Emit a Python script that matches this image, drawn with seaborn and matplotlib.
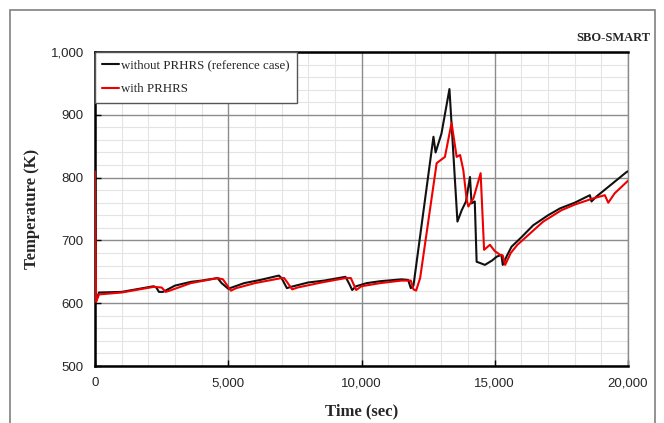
import matplotlib
matplotlib.use("Agg")
import matplotlib.pyplot as plt
import seaborn as sns
import pandas as pd
from matplotlib.patches import Rectangle
from matplotlib.ticker import FuncFormatter

# ---------------- data ----------------
black_t = [0, 40, 150, 1000, 2200, 2300, 2400, 2550, 3000, 3600, 4000, 4600, 4750, 5000, 5200,
           5600, 6200, 6900, 7000, 7200, 7350, 8000, 8600, 9400, 9550, 9650, 9800, 10200, 10700,
           11500, 11750, 11850, 11950, 12700, 12780, 13000, 13300, 13600, 13760, 13920, 14070,
           14130, 14250, 14320, 14450, 14630, 14900, 15070, 15250, 15300, 15450, 15630, 16000,
           16440, 17000, 17450, 18000, 18570, 18630, 18820, 19400, 19950, 20000]
black_T = [805, 603, 617, 618, 627, 625, 618, 618, 628, 634, 636, 640, 632, 623, 626,
           632, 637, 644, 640, 624, 626, 633, 636, 642, 630, 621, 627, 632, 635,
           638, 637, 624, 628, 865, 840, 870, 941, 730, 748, 762, 801,
           759, 762, 666, 664, 661, 668, 674, 677, 661, 675, 690, 705,
           724, 740, 751, 760, 772, 762, 770, 790, 809, 810]

red_t = [0, 40, 150, 1000, 2200, 2500, 2650, 2800, 3600, 4600, 4800, 5100, 5300, 6000, 7000,
         7100, 7400, 7600, 8500, 9400, 9600, 9800, 10000, 10700, 11500, 11850, 11950, 12050,
         12200, 12820, 13130, 13380, 13570, 13700, 13820, 13950, 14010, 14200, 14470, 14600,
         14820, 15000, 15200, 15300, 15390, 15600, 15850, 16820, 17500, 18000, 18700, 19130,
         19260, 19500, 19950, 20000]
red_T = [810, 602, 614, 617, 626, 625, 618, 620, 632, 640, 638, 620, 624, 632, 640,
         640, 622, 625, 633, 640, 640, 621, 627, 632, 636, 636, 622, 620,
         640, 823, 833, 887, 833, 836, 812, 764, 754, 767, 807, 685,
         693, 683, 677, 676, 661, 680, 693, 730, 748, 757, 767, 772,
         760, 775, 793, 795]

labels = ["without PRHRS (reference case)", "with PRHRS"]
x_ticks = [0, 5000, 10000, 15000, 20000]
y_ticks = [500, 600, 700, 800, 900, 1000]

df = pd.concat([
    pd.DataFrame({"t": black_t, "T": black_T, "case": labels[0]}),
    pd.DataFrame({"t": red_t, "T": red_T, "case": labels[1]}),
])

# ---------------- plot ----------------
sns.set_theme(style="white")
plt.rcParams["font.family"] = ["Liberation Sans", "DejaVu Sans"]

fig = plt.figure(figsize=(6.64, 4.23), dpi=100)
ax = fig.add_axes([95 / 664, 1 - 366 / 423, (628 - 95) / 664, (366 - 52) / 423])

# figure frame
fig.patches.append(Rectangle((10 / 664, -0.1), (655 - 10) / 664, 1.1 - 10 / 423,
                             transform=fig.transFigure, fill=False,
                             edgecolor="#808080", linewidth=1.2))

# light minor grid underneath everything
for v in range(0, 20001, 1000):
    if v not in x_ticks:
        ax.axvline(v, color="#e4e4e4", linewidth=0.8, zorder=0.1)
for v in range(500, 1001, 20):
    if v not in y_ticks:
        ax.axhline(v, color="#e4e4e4", linewidth=0.8, zorder=0.1)

sns.lineplot(data=df, x="t", y="T", hue="case", palette=["#111111", "#ee0000"],
             linewidth=1.5, sort=False, estimator=None, ax=ax, zorder=3)

ax.set_xlim(0, 20000)
ax.set_ylim(500, 1000)
ax.set_xticks(x_ticks)
ax.set_yticks(y_ticks)
fmt = FuncFormatter(lambda v, p: f"{int(v):,}")
ax.xaxis.set_major_formatter(fmt)
ax.yaxis.set_major_formatter(fmt)

ax.grid(which="major", color="#8c8c8c", linewidth=1.0, linestyle="-")
ax.set_axisbelow(True)

ax.tick_params(axis="both", which="major", labelsize=9.5, direction="in", length=4,
               width=1, color="black", pad=8, bottom=True, left=True)

for s in ["left", "bottom", "top"]:
    ax.spines[s].set_color("black")
    ax.spines[s].set_linewidth(1.8)
ax.spines["right"].set_color("#8c8c8c")
ax.spines["right"].set_linewidth(1.0)

ax.set_xlabel("Time (sec)", family=["Liberation Serif"], fontweight="bold", fontsize=12, labelpad=10)
ax.set_ylabel("Temperature (K)", family=["Liberation Serif"], fontweight="bold", fontsize=12, labelpad=8)

fig.text(650 / 664, 1 - 38 / 423, "SBO-SMART", family=["Liberation Serif"], fontweight="bold",
         fontsize=9, ha="right", va="center")

leg = ax.legend(loc="upper left", borderaxespad=0, fancybox=False, frameon=True,
                edgecolor="#555555", framealpha=1, handlelength=1.3, handletextpad=0.2,
                prop={"family": "Liberation Serif", "size": 9.3}, labelspacing=0.95,
                borderpad=0.55, title=None)
leg.get_frame().set_linewidth(1.0)
leg.set_zorder(5)

fig.savefig("out.png", dpi=100)
